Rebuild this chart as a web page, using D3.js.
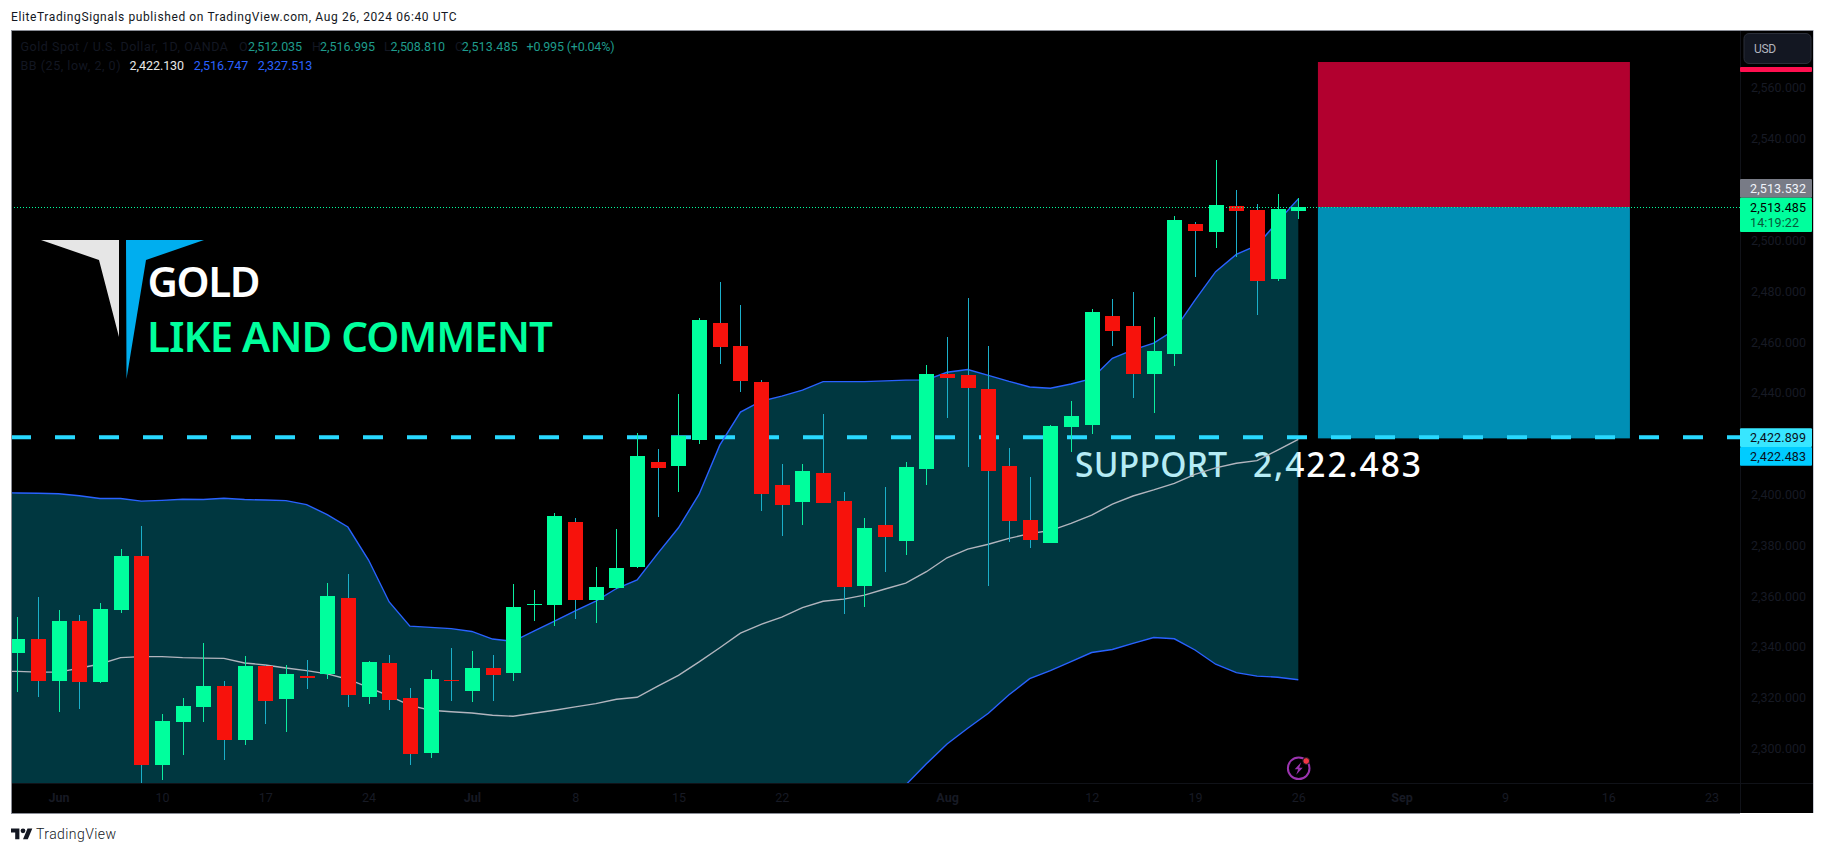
<!DOCTYPE html>
<html>
<head>
<meta charset="utf-8">
<script src="https://cdnjs.cloudflare.com/ajax/libs/d3/7.8.5/d3.min.js"></script>
<style>
html,body{margin:0;padding:0;background:#fff;}
svg{display:block;}
text{white-space:pre;}
</style>
</head>
<body>
<svg id="c" width="1825" height="853"></svg>
<script>
// ---- Data: one leading bar (mostly off-pane) followed by May 31 .. Aug 26, 2024 ----
const opens = [2338.0,2338.0,2343.5,2327.0,2350.6,2326.6,2354.9,2376.2,2293.9,2310.9,2316.8,2325.0,2303.8,2332.9,2319.9,2329.0,2329.8,2359.7,2320.7,2334.1,2320.3,2298.7,2327.4,2323.1,2332.1,2330.2,2356.9,2356.9,2389.5,2358.8,2363.6,2371.8,2413.1,2411.6,2421.8,2467.8,2458.8,2444.6,2404.1,2397.4,2408.8,2397.8,2364.3,2388.3,2382.1,2410.4,2447.8,2447.4,2441.9,2411.6,2390.4,2381.3,2427.0,2427.7,2470.6,2466.7,2447.8,2455.7,2506.8,2503.7,2513.9,2512.4,2485.2,2512.035];
const highs = [2345.0,2352.2,2360.1,2354.9,2353.0,2357.7,2378.9,2388.0,2314.0,2320.3,2342.0,2327.0,2336.8,2333.3,2333.3,2335.3,2365.6,2369.1,2334.9,2337.2,2324.2,2331.3,2340.0,2338.8,2337.2,2365.2,2362.8,2393.1,2391.1,2371.8,2386.8,2424.6,2418.3,2439.9,2469.8,2484.0,2474.9,2445.4,2412.4,2412.4,2432.0,2401.3,2391.1,2403.3,2413.1,2451.3,2462.4,2477.7,2458.8,2418.7,2407.3,2427.7,2437.2,2473.4,2477.3,2480.1,2470.2,2510.0,2507.6,2532.0,2520.2,2514.7,2518.6,2516.995];
const lows = [2332.0,2322.7,2320.7,2314.8,2316.0,2326.2,2353.8,2286.0,2288.0,2297.9,2310.9,2295.9,2301.8,2310.1,2306.9,2323.8,2327.8,2316.8,2317.9,2315.6,2293.9,2296.7,2319.1,2318.7,2319.1,2327.0,2350.6,2348.6,2351.4,2349.8,2363.2,2371.4,2391.5,2401.3,2420.2,2451.7,2440.7,2393.9,2384.0,2388.3,2397.0,2353.3,2356.1,2369.8,2376.5,2404.1,2430.5,2411.2,2364.4,2381.7,2379.3,2381.3,2417.1,2424.2,2458.8,2438.4,2432.5,2451.0,2486.0,2497.4,2493.9,2471.0,2484.4,2508.81];
const closes = [2338.0,2343.5,2327.0,2350.6,2326.6,2355.3,2376.2,2293.9,2311.3,2317.2,2325.0,2303.8,2332.9,2319.1,2329.8,2328.2,2360.4,2321.5,2334.5,2319.5,2298.3,2327.8,2327.0,2332.1,2329.4,2356.1,2357.3,2391.9,2358.8,2363.9,2371.4,2415.5,2410.8,2423.4,2469.0,2458.4,2445.0,2400.5,2396.2,2409.6,2397.0,2363.9,2387.2,2383.6,2411.2,2447.8,2446.2,2442.3,2409.6,2390.0,2382.5,2427.3,2431.3,2472.2,2464.7,2447.8,2456.9,2508.4,2504.1,2514.3,2512.0,2484.4,2512.7,2513.485];
const bbUpper = [2401.1,2401.0,2400.9,2400.7,2399.9,2398.8,2398.8,2397.8,2398.1,2398.5,2398.4,2398.9,2398.4,2398.2,2398.0,2396.4,2392.5,2387.6,2374.6,2358.1,2348.6,2348.1,2347.6,2346.5,2343.5,2342.6,2346.6,2350.6,2354.6,2358.4,2363.4,2366.8,2377.2,2387.3,2400.5,2419.8,2432.8,2437.1,2439.1,2441.5,2444.8,2444.8,2444.8,2445.1,2445.4,2445.5,2448.5,2449.6,2447.3,2444.9,2442.7,2442.2,2443.9,2446.0,2454.0,2457.3,2460.0,2465.1,2476.9,2488.1,2494.9,2498.4,2507.8,2516.747];
const bbBasis = [2330.7,2330.8,2330.5,2330.5,2332.0,2333.7,2336.2,2336.6,2336.6,2336.2,2336.0,2335.9,2334.1,2333.3,2332.1,2331.1,2329.8,2327.7,2324.5,2321.1,2317.4,2315.5,2314.9,2314.4,2313.5,2313.1,2314.3,2315.5,2316.8,2318.1,2319.8,2320.6,2325.0,2329.2,2334.5,2340.1,2345.8,2349.3,2352.1,2355.9,2358.4,2359.2,2360.8,2363.2,2365.5,2370.0,2375.5,2378.9,2380.8,2383.1,2385.0,2386.2,2389.0,2392.3,2396.6,2399.8,2402.2,2404.8,2408.3,2410.9,2412.7,2413.7,2417.9,2422.13];
const bbLower = [2260.4,2260.6,2260.1,2260.3,2264.1,2268.6,2273.6,2275.4,2275.1,2273.9,2273.6,2272.9,2269.8,2268.4,2266.2,2265.8,2267.1,2267.8,2274.4,2284.1,2286.2,2282.9,2282.2,2282.3,2283.5,2283.6,2282.0,2280.4,2279.0,2277.8,2276.2,2274.4,2272.8,2271.1,2268.5,2260.4,2258.8,2261.5,2265.1,2270.3,2272.0,2273.6,2276.8,2281.3,2286.1,2294.4,2302.2,2308.4,2314.3,2321.6,2327.9,2331.1,2334.6,2338.2,2339.4,2341.8,2344.1,2343.6,2339.2,2333.6,2330.3,2328.9,2328.5,2327.513];
const priceTicks = [2300,2320,2340,2360,2380,2400,2440,2460,2480,2500,2540,2560];
const timeTickBars = [2,7,12,17,22,27,32,37,45,52,57,62,67,72,77,82];
const timeTickLabels = ["Jun","10","17","24","Jul","8","15","22","Aug","12","19","26","Sep","9","16","23"];
const boldTimeLabels = ["Jun","Jul","Aug","Sep"];
const riskTop = 2570.6, riskMid = 2513.485, riskBottom = 2422.483;
const riskStartBar = 62.95, riskEndBar = 78.05;
const supportLevel = 2422.899, lastPrice = 2513.485, prePrice = 2513.532, supportTag = 2422.483;

// ---- Layout ----
const L=11, T=30, PR=1740, R=1813, TB=783, B=813;
const C = {green:"#00ff9d", red:"#f7120c", redWick:"#1bafc9", greenWick:"#0ceea0", axis:"#171a24",
  fill:"rgba(0,190,220,0.29)", up:"#2962ff", mid:"#b2b5be", dash:"#28d9ff", boxR:"#b2002f", boxB:"#008fb5"};
const FONT = "Roboto, 'Liberation Sans', sans-serif";

const svg = d3.select("#c");
const x = d3.scaleLinear().domain([-1,62]).range([-3.36,1298.3]);
const y = d3.scaleLinear().domain([2300,2560]).range([749.6,88.94]);

svg.append("rect").attr("x",L).attr("y",T).attr("width",R-L).attr("height",B-T).attr("fill","#000");
svg.append("defs").append("clipPath").attr("id","pane").append("rect")
  .attr("x",L+1).attr("y",T+1).attr("width",PR-L-1).attr("height",TB-T-1);
const pane = svg.append("g").attr("clip-path","url(#pane)");

// risk/reward boxes
const bx0=x(riskStartBar), bx1=x(riskEndBar);
pane.append("rect").attr("x",bx0).attr("width",bx1-bx0).attr("y",y(riskTop)).attr("height",y(riskMid)-y(riskTop)).attr("fill",C.boxR);
pane.append("rect").attr("x",bx0).attr("width",bx1-bx0).attr("y",y(riskMid)).attr("height",y(riskBottom)-y(riskMid)).attr("fill",C.boxB);

// Support text sits under the band fill
function label(sel,t,px,base,size,color,len,weight,font){
  const e = sel.append("text").attr("x",px).attr("y",base).attr("fill",color)
    .attr("font-size",size).attr("font-family",font||FONT).text(t);
  if(weight) e.attr("font-weight",weight);
  if(len) e.attr("textLength",len).attr("lengthAdjust","spacing");
  return e;
}
label(pane,"SUPPORT",1075,477,33.5,"#fff",152,500,"'Noto Sans',sans-serif");
label(pane,"2,422.483",1253,477,33.5,"#fff",168,500,"'Noto Sans',sans-serif");

// Bollinger band
const bars = d3.range(opens.length).map(i=>i-1);
const area = d3.area().x(b=>x(b)).y0(b=>y(bbLower[b+1])).y1(b=>y(bbUpper[b+1]));
pane.append("path").attr("d",area(bars)).attr("fill",C.fill);

// support dashed line
pane.append("line").attr("x1",L).attr("x2",PR).attr("y1",y(supportLevel)).attr("y2",y(supportLevel))
  .attr("stroke",C.dash).attr("stroke-width",4).attr("stroke-dasharray","20 24");

// band lines
const ln = arr => d3.line().x(b=>x(b)).y(b=>y(arr[b+1]));
pane.append("path").attr("d",ln(bbUpper)(bars)).attr("fill","none").attr("stroke",C.up).attr("stroke-width",1.4);
pane.append("path").attr("d",ln(bbLower)(bars)).attr("fill","none").attr("stroke",C.up).attr("stroke-width",1.4);
pane.append("path").attr("d",ln(bbBasis)(bars)).attr("fill","none").attr("stroke",C.mid).attr("stroke-width",1.4);

// candles
const g = pane.selectAll("g.bar").data(bars).join("g").attr("class","bar").attr("shape-rendering","crispEdges");
const isUp = b => closes[b+1] >= opens[b+1];
g.append("line")
  .attr("x1",b=>Math.round(x(b))+.5).attr("x2",b=>Math.round(x(b))+.5)
  .attr("y1",b=>Math.round(y(highs[b+1]))).attr("y2",b=>Math.round(y(lows[b+1])))
  .attr("stroke",b=>isUp(b)?C.greenWick:C.redWick);
g.append("rect")
  .attr("x",b=>Math.round(x(b))-7).attr("width",15)
  .attr("y",b=>Math.round(y(Math.max(opens[b+1],closes[b+1]))))
  .attr("height",b=>Math.max(1,Math.round(y(Math.min(opens[b+1],closes[b+1])))-Math.round(y(Math.max(opens[b+1],closes[b+1])))))
  .attr("fill",b=>isUp(b)?C.green:C.red);

// last price dotted line
pane.append("line").attr("x1",L).attr("x2",PR).attr("y1",Math.round(y(lastPrice))+.5).attr("y2",Math.round(y(lastPrice))+.5)
  .attr("stroke",C.green).attr("stroke-width",1).attr("stroke-dasharray","1 2");

// logo
svg.append("polygon").attr("points","41,240 119,240 119,337 99,260").attr("fill","#e6e6e6");
svg.append("polygon").attr("points","126,240 204,240 146,260 126.5,379").attr("fill","#00aeef");
label(svg,"GOLD",147.5,297,42,"#fff",113,600,"'Noto Sans',sans-serif");
label(svg,"LIKE AND COMMENT",147,351.7,42,C.green,406,600,"'Noto Sans',sans-serif");

// header + footer
label(svg,"EliteTradingSignals published on TradingView.com, Aug 26, 2024 06:40 UTC",11,20.5,12,"#131722",445.5);
svg.append("g").attr("transform","translate(11,826) scale(0.6)").html('<path d="M14 22H7V11H0V4h14v18zM28 22h-8l7.5-18h8L28 22z" fill="#131722"/><circle cx="20" cy="8" r="4" fill="#131722"/>');
label(svg,"TradingView",36,838.5,14,"#131722",80,300);

// legend
const dim="#131722", tealT="#1f9c8c", blueT="#2962ff";
[["Gold Spot / U.S. Dollar, 1D, OANDA",20.5,207.5,dim],["O",239,null,dim],["2,512.035",248,54,tealT],["H",312,null,dim],["2,516.995",320,55,tealT],
 ["L",384,null,dim],["2,508.810",390.5,54.5,tealT],["C",455,null,dim],["2,513.485",461.7,56,tealT],["+0.995 (+0.04%)",526.5,88,tealT]]
 .forEach(d=>label(svg,d[0],d[1],51,12.5,d[3],d[2]));
[["BB (25, low, 2, 0)",20.5,100,dim],["2,422.130",129.6,54.5,"#e8e8e8"],["2,516.747",193.7,54.5,blueT],["2,327.513",257.7,54.5,blueT]]
 .forEach(d=>label(svg,d[0],d[1],70,12.5,d[3],d[2]));

// pane separators
svg.append("line").attr("x1",PR+.5).attr("x2",PR+.5).attr("y1",T).attr("y2",B).attr("stroke","#101218");
svg.append("line").attr("x1",L).attr("x2",R).attr("y1",TB+.5).attr("y2",TB+.5).attr("stroke","#101218");

// price axis
const yAxis = d3.axisRight(y).tickValues(priceTicks).tickSize(0).tickFormat(d3.format(",.3f"));
const ya = svg.append("g").attr("transform",`translate(${PR},-1)`).call(yAxis);
ya.select(".domain").remove();
ya.selectAll("text").attr("x",66).attr("dy","0.32em").attr("text-anchor","end")
  .attr("fill",C.axis).attr("font-size",12.5).attr("font-family",FONT);

// time axis
const xAxis = d3.axisBottom(x).tickValues(timeTickBars).tickSize(0).tickFormat((d,i)=>timeTickLabels[i]);
const xa = svg.append("g").attr("transform",`translate(0,${TB})`).call(xAxis);
xa.select(".domain").remove();
xa.selectAll("text").attr("y",15).attr("dy","0.32em").attr("fill",C.axis).attr("font-size",12.5).attr("font-family",FONT)
  .attr("font-weight",(d,i)=>boldTimeLabels.includes(timeTickLabels[i])?700:400);

// price tags
function tag(y0,y1,fill,txt,tc,extra){
  svg.append("rect").attr("x",PR).attr("y",y0).attr("width",72).attr("height",y1-y0).attr("rx",1).attr("fill",fill);
  if(txt) label(svg,txt,1750,(y0+y1)/2+4.5-(extra?7:0),12.5,tc,56);
  if(extra) label(svg,extra,1750,(y0+y1)/2+12.5,12.5,"#075a3a",49);
}
tag(67,72,"#ff0f4f");
tag(179,197.7,"#787b86",d3.format(",.3f")(prePrice),"#f0f3fa");
tag(197.7,232,C.green,d3.format(",.3f")(lastPrice),"#000","14:19:22");
tag(428.3,447,"#38e6ff",d3.format(",.3f")(supportLevel),"#0a0f1a");
tag(447,465.7,"#00ccff",d3.format(",.3f")(supportTag),"#0a0f1a");

// USD button
svg.append("rect").attr("x",1744).attr("y",33.5).attr("width",67).attr("height",30).attr("rx",5).attr("fill","#131722").attr("stroke","#2a2e39");
label(svg,"USD",1754,52.5,12,"#b2b5be",22);

// lightning icon
const ic = svg.append("g").attr("transform","translate(1298.7,768.3)");
ic.append("circle").attr("r",10.8).attr("fill","#000").attr("stroke","#9c34b0").attr("stroke-width",2);
ic.append("path").attr("d","M2.5,-6 L-4,1 L-0.5,1 L-2.5,6.5 L4,-0.5 L0.5,-0.5 Z").attr("fill","#9c34b0");
ic.append("circle").attr("cx",7.5).attr("cy",-7.3).attr("r",3.4).attr("fill","#f23645").attr("stroke","#131722").attr("stroke-width",1);

// chart frame
svg.append("line").attr("x1",L).attr("x2",R).attr("y1",T+.5).attr("y2",T+.5).attr("stroke","#8a8d96");
svg.append("line").attr("x1",L+.5).attr("x2",L+.5).attr("y1",T).attr("y2",B).attr("stroke","#8a8d96");
svg.append("line").attr("x1",L).attr("x2",PR).attr("y1",B+.5).attr("y2",B+.5).attr("stroke","#8a8d96");
svg.append("line").attr("x1",R+.5).attr("x2",R+.5).attr("y1",T).attr("y2",B).attr("stroke","#c8cbd4");
</script>
</body>
</html>
